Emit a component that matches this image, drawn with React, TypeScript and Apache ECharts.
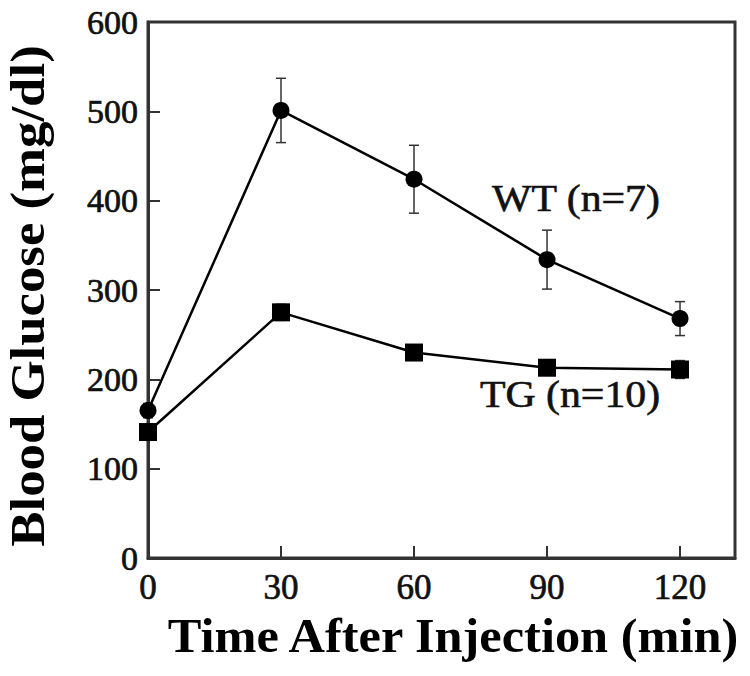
import React, { useEffect, useRef } from "react";
import * as echarts from "echarts";

const xTimes = [0, 30, 60, 90, 120];
const wtMean = [165, 501, 424, 334, 268];
const wtErr = [8, 36, 38, 33, 19];
const tgMean = [141, 275, 230, 213, 211];
const tgErr = [9, 9, 7, 7, 10];
const yTicks = [0, 100, 200, 300, 400, 500, 600];
const xTickLabels = ["0", "30", "60", "90", "120"];
const wtLabel = "WT (n=7)";
const tgLabel = "TG (n=10)";
const xTitle = "Time After Injection (min)";
const yTitle = "Blood Glucose (mg/dl)";

const SERIF = "'Liberation Serif', 'Times New Roman', serif";

export default function App() {
  const ref = useRef<HTMLDivElement>(null);
  useEffect(() => {
    if (!ref.current) return;
    const chart = echarts.init(ref.current, undefined, { renderer: "svg" });
    const wtData = xTimes.map((x, i) => [x, wtMean[i]]);
    const tgData = xTimes.map((x, i) => [x, tgMean[i]]);
    const wtErrData = xTimes.map((x, i) => [x, wtMean[i], wtErr[i]]);
    const tgErrData = xTimes.map((x, i) => [x, tgMean[i], tgErr[i]]);
    const errRender = (params: any, api: any) => {
      const x = api.value(0);
      const y = api.value(1);
      const e = api.value(2);
      const top = api.coord([x, y + e]);
      const bot = api.coord([x, y - e]);
      const hw = 5;
      const st = { stroke: "#333", lineWidth: 1.5 };
      return {
        type: "group",
        children: [
          { type: "line", shape: { x1: top[0], y1: top[1], x2: bot[0], y2: bot[1] }, style: st },
          { type: "line", shape: { x1: top[0] - hw, y1: top[1], x2: top[0] + hw, y2: top[1] }, style: st },
          { type: "line", shape: { x1: bot[0] - hw, y1: bot[1], x2: bot[0] + hw, y2: bot[1] }, style: st },
        ],
      };
    };
    chart.setOption({
      animation: false,
      backgroundColor: "#fff",
      grid: {
        left: 148,
        top: 22,
        width: 587,
        height: 536,
        show: true,
        borderColor: "#333",
        borderWidth: 3,
        backgroundColor: "transparent",
      },
      xAxis: {
        type: "value",
        min: 0,
        max: 132.4,
        interval: 30,
        splitLine: { show: false },
        axisLine: { show: true, lineStyle: { color: "#333", width: 3 } },
        axisTick: { show: true, inside: true, length: 12, lineStyle: { color: "#333", width: 2 } },
        axisLabel: {
          margin: 12,
          fontFamily: SERIF,
          fontSize: 35,
          color: "#111",
          textBorderColor: "#111",
          textBorderWidth: 0.7,
          showMaxLabel: false,
          formatter: (v: number) => {
            const i = xTimes.indexOf(v);
            return i >= 0 ? xTickLabels[i] : "";
          },
        },
      },
      yAxis: {
        type: "value",
        min: 0,
        max: 600,
        interval: 100,
        splitLine: { show: false },
        axisLine: { show: true, lineStyle: { color: "#333", width: 3 } },
        axisTick: { show: true, inside: true, length: 12, lineStyle: { color: "#333", width: 2 } },
        axisLabel: {
          margin: 10,
          fontFamily: SERIF,
          fontSize: 34,
          color: "#111",
          textBorderColor: "#111",
          textBorderWidth: 0.7,
          formatter: (v: number) => (yTicks.indexOf(v) >= 0 ? String(v) : ""),
        },
      },
      graphic: [
        {
          type: "text",
          x: 453,
          y: 636,
          scaleX: 1.05,
          style: {
            text: xTitle,
            font: `bold 48px ${SERIF}`,
            fill: "#000",
            align: "center",
            verticalAlign: "middle",
          },
        },
        {
          type: "text",
          x: 28,
          y: 296,
          rotation: Math.PI / 2,
          scaleX: 1.1,
          style: {
            text: yTitle,
            font: `bold 48px ${SERIF}`,
            fill: "#000",
            align: "center",
            verticalAlign: "middle",
          },
        },
        {
          type: "text",
          x: 576,
          y: 198,
          scaleX: 1.1,
          style: {
            text: wtLabel,
            font: `38px ${SERIF}`,
            fill: "#111",
            stroke: "#111",
            lineWidth: 0.6,
            align: "center",
            verticalAlign: "middle",
          },
        },
        {
          type: "text",
          x: 570,
          y: 394,
          scaleX: 1.1,
          style: {
            text: tgLabel,
            font: `38px ${SERIF}`,
            fill: "#111",
            stroke: "#111",
            lineWidth: 0.6,
            align: "center",
            verticalAlign: "middle",
          },
        },
      ],
      series: [
        {
          type: "custom",
          renderItem: errRender,
          data: wtErrData,
          z: 1,
          clip: false,
        },
        {
          type: "custom",
          renderItem: errRender,
          data: tgErrData,
          z: 1,
          clip: false,
        },
        {
          type: "line",
          data: wtData,
          symbol: "circle",
          symbolSize: 17,
          clip: false,
          z: 3,
          lineStyle: { color: "#000", width: 2.5 },
          itemStyle: { color: "#000" },
        },
        {
          type: "line",
          data: tgData,
          symbol: "rect",
          symbolSize: 18,
          clip: false,
          z: 3,
          lineStyle: { color: "#000", width: 2.5 },
          itemStyle: { color: "#000" },
        },
      ],
    });
    return () => chart.dispose();
  }, []);
  return (
    <div
      ref={ref}
      style={{ position: "fixed", left: 0, top: 0, width: 750, height: 676, background: "#fff" }}
    />
  );
}
